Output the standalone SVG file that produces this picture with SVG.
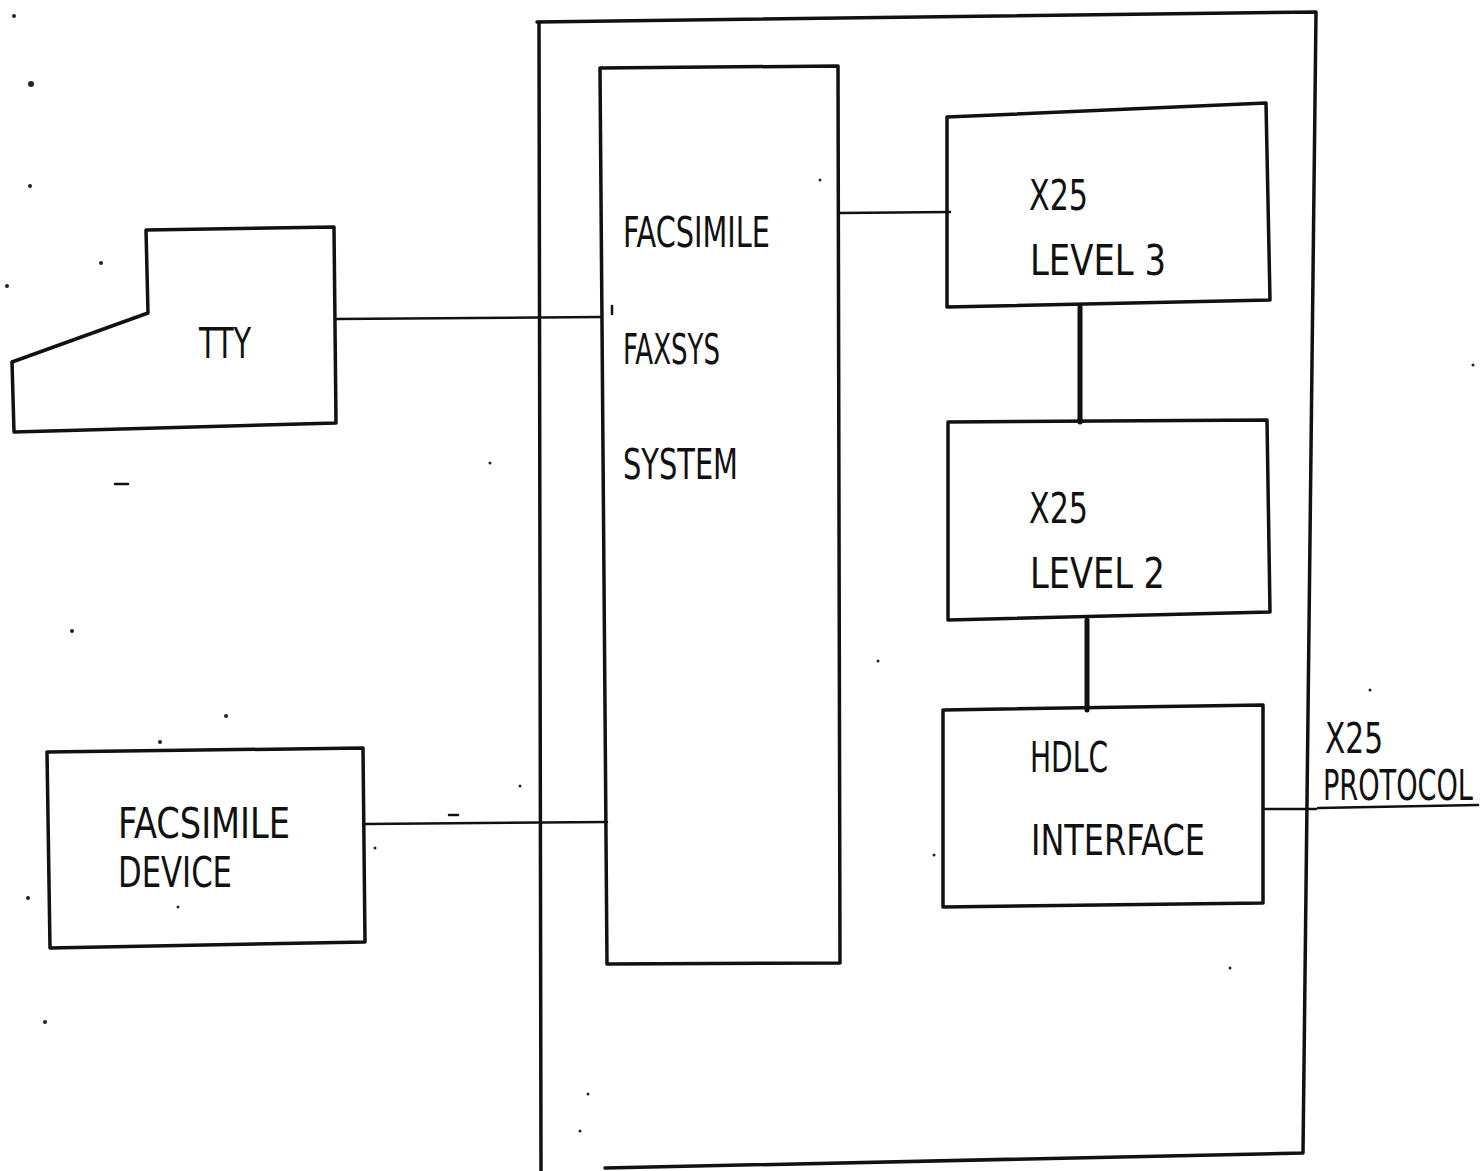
<svg xmlns="http://www.w3.org/2000/svg" width="1480" height="1171" viewBox="0 0 1480 1171">
<style>
.box{fill:none;stroke:#111;stroke-width:3.5;stroke-linejoin:round;stroke-linecap:round}
.ln{fill:none;stroke:#111;stroke-width:2.5;stroke-linecap:round}
.thick{stroke-width:5}
.t{font-family:"DejaVu Sans Condensed","Liberation Sans",Arial,sans-serif;font-size:42px;fill:#111}
.speck{fill:#222}
</style>
<rect width="1480" height="1171" fill="#fff"/>
<g id="system">
<path class="box" d="M537,22 L1316,12 L1303,1153 L605,1168 M539,22 L541,1171"/>
</g>
<g id="faxsys">
<path class="box" d="M600,68 L838,66 L840,963 L607,964 Z"/>
<path class="ln" d="M612,306 L612,314"/>
<text class="t" x="623" y="247" textLength="147" lengthAdjust="spacingAndGlyphs">FACSIMILE</text>
<text class="t" x="623" y="364" textLength="97" lengthAdjust="spacingAndGlyphs">FAXSYS</text>
<text class="t" x="623" y="479" textLength="115" lengthAdjust="spacingAndGlyphs">SYSTEM</text>
</g>
<g id="tty">
<path class="box" d="M12,362 L148,313 L146,230 L334,227 L336,423 L14,432 Z"/>
<text class="t" x="199" y="358" textLength="52" lengthAdjust="spacingAndGlyphs">TTY</text>
</g>
<g id="fax-device">
<path class="box" d="M47,752 L363,748 L365,942 L50,948 Z"/>
<text class="t" x="118" y="838" textLength="172" lengthAdjust="spacingAndGlyphs">FACSIMILE</text>
<text class="t" x="118" y="887" textLength="114" lengthAdjust="spacingAndGlyphs">DEVICE</text>
</g>
<g id="x25-level3">
<path class="box" d="M947,117 L1266,103 L1270,300 L947,307 Z"/>
<text class="t" x="1029" y="210" textLength="59" lengthAdjust="spacingAndGlyphs">X25</text>
<text class="t" x="1030" y="275" textLength="136" lengthAdjust="spacingAndGlyphs">LEVEL 3</text>
</g>
<g id="x25-level2">
<path class="box" d="M948,422 L1267,420 L1270,612 L948,620 Z"/>
<text class="t" x="1029" y="523" textLength="59" lengthAdjust="spacingAndGlyphs">X25</text>
<text class="t" x="1030" y="588" textLength="135" lengthAdjust="spacingAndGlyphs">LEVEL 2</text>
</g>
<g id="hdlc">
<path class="box" d="M943,710 L1263,705 L1263,903 L943,907 Z"/>
<text class="t" x="1030" y="772" textLength="78" lengthAdjust="spacingAndGlyphs">HDLC</text>
<text class="t" x="1031" y="855" textLength="174" lengthAdjust="spacingAndGlyphs">INTERFACE</text>
</g>
<g id="x25-protocol">
<text class="t" x="1325" y="753" textLength="58" lengthAdjust="spacingAndGlyphs">X25</text>
<text class="t" transform="translate(1323,800) scale(1,1.4)" x="0" y="0" style="font-size:30px" textLength="150" lengthAdjust="spacingAndGlyphs">PROTOCOL</text>
</g>
<g id="connectors">
<path class="ln" d="M336,319 L600,317"/>
<path class="ln" d="M365,824 L607,822"/>
<path class="ln" d="M840,213 L950,212"/>
<path class="ln thick" d="M1080,307 L1080,422"/>
<path class="ln thick" d="M1087,620 L1087,710"/>
<path class="ln" d="M1263,809 L1316,809"/>
<path class="ln" d="M1318,808 L1478,805"/>
</g>
<g id="specks">
<circle class="speck" cx="14" cy="16" r="2"/>
<circle class="speck" cx="31" cy="84" r="3"/>
<circle class="speck" cx="30" cy="186" r="2"/>
<circle class="speck" cx="101" cy="263" r="2"/>
<circle class="speck" cx="7" cy="286" r="2"/>
<path class="ln" d="M115,484 L128,484"/>
<circle class="speck" cx="72" cy="631" r="2"/>
<circle class="speck" cx="160" cy="742" r="2"/>
<circle class="speck" cx="226" cy="716" r="2"/>
<circle class="speck" cx="28" cy="898" r="2"/>
<circle class="speck" cx="45" cy="1022" r="2"/>
<circle class="speck" cx="375" cy="848" r="1.5"/>
<circle class="speck" cx="178" cy="907" r="1.5"/>
<path class="ln" d="M449,815 L458,815"/>
<circle class="speck" cx="520" cy="786" r="1.5"/>
<circle class="speck" cx="490" cy="463" r="1.5"/>
<circle class="speck" cx="820" cy="180" r="1.5"/>
<circle class="speck" cx="878" cy="661" r="1.5"/>
<circle class="speck" cx="934" cy="855" r="1.5"/>
<circle class="speck" cx="1230" cy="968" r="1.5"/>
<circle class="speck" cx="1473" cy="365" r="1.5"/>
<circle class="speck" cx="1370" cy="690" r="1.5"/>
<circle class="speck" cx="588" cy="1094" r="1.5"/>
<circle class="speck" cx="580" cy="1131" r="1.5"/>
</g>
</svg>
